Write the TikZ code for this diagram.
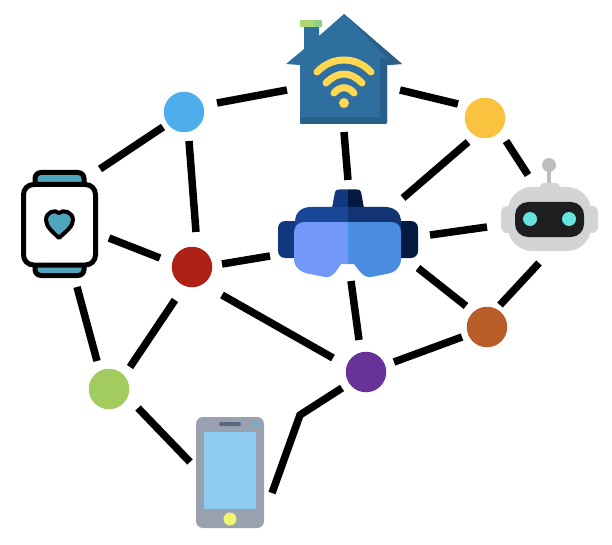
\documentclass[tikz,border=0pt]{standalone}
\usetikzlibrary{positioning}
\definecolor{cBlue}{HTML}{4DAEEB}
\definecolor{cRed}{HTML}{AF2116}
\definecolor{cYellow}{HTML}{F9C23F}
\definecolor{cBrown}{HTML}{B85C28}
\definecolor{cPurple}{HTML}{673399}
\definecolor{cGreen}{HTML}{A2CC5F}
\definecolor{capA}{HTML}{ACD874}
\definecolor{capB}{HTML}{8DD284}
\definecolor{houseMain}{HTML}{2F6F9F}
\definecolor{houseDark}{HTML}{28608A}
\definecolor{wifi}{HTML}{FFD84F}
\definecolor{vrA}{HTML}{12387F}
\definecolor{vrB}{HTML}{04193F}
\definecolor{vrC}{HTML}{1A4698}
\definecolor{vrD}{HTML}{123474}
\definecolor{vrE}{HTML}{7299FA}
\definecolor{vrF}{HTML}{4A8CE0}
\definecolor{robGrey}{HTML}{D3D4D6}
\definecolor{robAnt}{HTML}{BDBEC0}
\definecolor{robVis}{HTML}{1E1E20}
\definecolor{robEye}{HTML}{66E3DC}
\definecolor{teal}{HTML}{4FA5BD}
\definecolor{phBody}{HTML}{99A1B1}
\definecolor{phScreen}{HTML}{8DCBF1}
\definecolor{phSpeak}{HTML}{5A6884}
\definecolor{phCam}{HTML}{63B4E8}
\definecolor{phBtn}{HTML}{F0F56E}
\tikzset{
  x=1pt,y=-1pt,
  dot/.style={circle,minimum size=40.5pt,inner sep=0pt,outer sep=0pt,fill=#1},
  icon/.style={inner sep=0pt,outer sep=0pt,minimum size=1pt},
  wire/.style={line width=7.5pt,black},
  arc wifi/.style={line width=7pt,wifi,line cap=round}
}
\begin{document}
\begin{tikzpicture}
\fill[white] (0,0) rectangle (612,545);
\useasboundingbox (0,0) rectangle (612,545);
% nodes
\node[dot=cBlue] (blue) at (184,112) {};
\node[dot=cRed] (red) at (192,267) {};
\node[dot=cYellow] (yellow) at (485,118) {};
\node[dot=cBrown] (brown) at (487,327) {};
\node[dot=cPurple] (purple) at (366,372) {};
\node[dot=cGreen] (green) at (109,389) {};
\node[icon] (house) at (344,70) {};
\node[icon] (vr) at (348,232) {};
\node[icon] (robot) at (549,205) {};
\node[icon] (watch) at (59,224) {};
\node[icon] (phone) at (230,472) {};
\coordinate (bend) at (300,415);
% connectors
\draw[wire] ([shift={(33,-9)}]blue.center) -- ([shift={(-57,20)}]house.center);
\draw[wire] ([shift={(56,20)}]house.center) -- ([shift={(-27,-14)}]yellow.center);
\draw[wire] ([shift={(0,62)}]house.center) -- ([shift={(0,-52)}]vr.center);
\draw[wire] ([shift={(-21,15)}]blue.center) -- ([shift={(41,-55)}]watch.center);
\draw[wire] ([shift={(5,29)}]blue.center) -- ([shift={(4,-35)}]red.center);
\draw[wire] ([shift={(-17,24)}]yellow.center) -- ([shift={(55,-34)}]vr.center);
\draw[wire] ([shift={(21,23)}]yellow.center) -- ([shift={(-21,-30)}]robot.center);
\draw[wire] ([shift={(50,14)}]watch.center) -- ([shift={(-32,-9)}]red.center);
\draw[wire] ([shift={(30,-3)}]red.center) -- ([shift={(-78,24)}]vr.center);
\draw[wire] ([shift={(82,3)}]vr.center) -- ([shift={(-62,22)}]robot.center);
\draw[wire] ([shift={(70,36)}]vr.center) -- ([shift={(-21,-21)}]brown.center);
\draw[wire] ([shift={(-10,58)}]robot.center) -- ([shift={(13,-22)}]brown.center);
\draw[wire] ([shift={(3,49)}]vr.center) -- ([shift={(-7,-32)}]purple.center);
\draw[wire] ([shift={(30,28)}]red.center) -- ([shift={(-33,-14)}]purple.center);
\draw[wire] ([shift={(-25,10)}]brown.center) -- ([shift={(28,-10)}]purple.center);
\draw[wire] ([shift={(-17,33)}]red.center) -- ([shift={(21,-22)}]green.center);
\draw[wire] ([shift={(18,63)}]watch.center) -- ([shift={(-12,-28)}]green.center);
\draw[wire] ([shift={(29,19)}]green.center) -- ([shift={(-40,-10)}]phone.center);
\draw[wire] ([shift={(-24,16)}]purple.center) -- (bend) -- ([shift={(42,21)}]phone.center);
% house
\fill[houseMain] (319,36) -- (319,26) -- (304,26) -- (304,49) -- (286,64) -- (300,65) -- (300,122) .. controls (300,123.5) and (300.5,124) .. (302,124) -- (385,124) .. controls (386.5,124) and (387,123.5) .. (387,122) -- (387,65) -- (402,64) -- (344,14) -- cycle;
\fill[houseDark] (344,14) -- (402,64) -- (387,65) -- (387,122) .. controls (387,123.5) and (386.5,124) .. (385,124) -- (302,124) .. controls (300.5,124) and (300,123.5) .. (300,122) -- (300,117) -- (380,117) -- (380,58) -- (387,58) -- cycle;
\fill[capA] (300,20) rectangle (315,27);
\fill[capB] (315,20) rectangle (322,27);
\draw[arc wifi] (317,72) .. controls (332,56) and (356,56) .. (371,72);
\draw[arc wifi] (326,83) .. controls (338,71) and (350,71) .. (362,83);
\draw[arc wifi] (334,93) .. controls (340,86) and (348,86) .. (354,93);
\fill[wifi] (344,103) circle (5);
% VR headset
\fill[vrA] (332,208) -- (335,192) .. controls (335.5,190) and (337,189.5) .. (339,189.5) -- (348,189.5) -- (348,208) -- cycle;
\fill[vrB] (364,208) -- (361,192) .. controls (360.5,190) and (359,189.5) .. (357,189.5) -- (348,189.5) -- (348,208) -- cycle;
\fill[vrA,rounded corners=7pt] (278,221) rectangle (305,258);
\fill[vrB,rounded corners=7pt] (391,221) rectangle (418,258);
\fill[vrC] (295,230) -- (295,222) .. controls (295,212) and (302,207) .. (311,207) -- (348,207) -- (348,230) -- cycle;
\fill[vrD] (401,230) -- (401,222) .. controls (401,212) and (394,207) .. (385,207) -- (348,207) -- (348,230) -- cycle;
\fill[vrE] (348,222) -- (305,222) .. controls (298,222) and (294,226) .. (294,233) -- (294,259) .. controls (294,267) and (301,273) .. (310,274) -- (325,277) .. controls (333,278) and (337,270) .. (341,264) -- (348,264) -- cycle;
\fill[vrF] (348,222) -- (391,222) .. controls (398,222) and (401,226) .. (401,233) -- (401,259) .. controls (401,267) and (395,273) .. (386,274) -- (371,277) .. controls (363,278) and (359,270) .. (354,264) -- (348,264) -- cycle;
% robot
\fill[robAnt] (549,165) circle (7);
\fill[robAnt] (547,165) rectangle (551,186);
\fill[robGrey,rounded corners=4pt] (540,183) rectangle (560,195);
\fill[robGrey,rounded corners=6pt] (501,206) rectangle (514,233);
\fill[robGrey,rounded corners=6pt] (585,206) rectangle (598,233);
\fill[robGrey,rounded corners=24pt] (508,187) rectangle (591,251);
\fill[robVis,rounded corners=13pt] (515,202) rectangle (584,237);
\fill[robEye] (530,219) circle (7);
\fill[robEye] (569,219) circle (7);
% watch
\draw[black,line width=5pt,rounded corners=6pt,fill=teal] (35,184) -- (35,172.5) -- (84,172.5) -- (84,184);
\draw[black,line width=5pt,rounded corners=6pt,fill=teal] (35,264) -- (35,275.5) -- (84,275.5) -- (84,264);
\draw[black,line width=5pt,rounded corners=10pt,fill=white] (23.5,184.5) rectangle (95.5,265);
\draw[black,line width=4pt,line join=round,fill=teal] (59,238) .. controls (53,232) and (46,227) .. (46,220) .. controls (46,212) and (55,209) .. (59,213) .. controls (63,209) and (73,212) .. (73,220) .. controls (73,227) and (65,232) .. (59,238) -- cycle;
% phone
\fill[phBody,rounded corners=7pt] (196,417) rectangle (264,528);
\fill[phScreen] (204,432) rectangle (256,509);
\fill[phSpeak,rounded corners=2pt] (219,422) rectangle (241,426);
\fill[phCam] (256,424) circle (2.5);
\fill[phBtn] (230,519) circle (6.5);
\end{tikzpicture}
\end{document}
